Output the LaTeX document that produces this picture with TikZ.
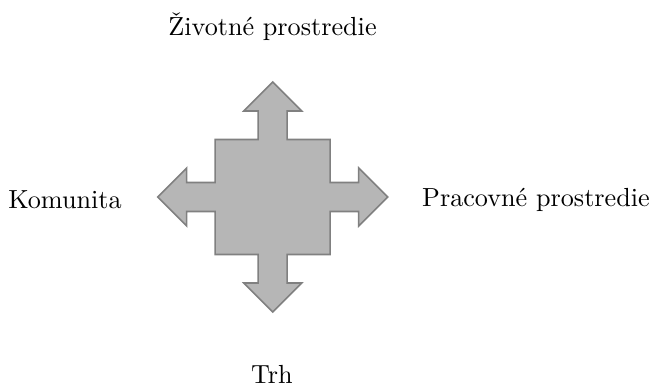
\documentclass[tikz,border=0pt]{standalone}
\begin{document}
\begin{tikzpicture}[x=0.382pt,y=-0.382pt,
  arrowshape/.style={fill=gray!50!white!95!black, draw=black!50, line width=0.6pt, line join=miter},
  lbl/.style={font=\fontsize{10}{12}\selectfont, inner sep=0pt}]
\useasboundingbox (0,0) rectangle (652,386);
\coordinate (c) at (272.7,197);
\begin{scope}[shift={(c)}]
\draw[arrowshape] (0,-115) -- (29,-86) -- (14.5,-86) -- (14.5,-57.5) -- (57.5,-57.5) -- (57.5,-14.5)
 -- (86,-14.5) -- (86,-29) -- (115,0) -- (86,29) -- (86,14.5) -- (57.5,14.5) -- (57.5,57.5)
 -- (14.5,57.5) -- (14.5,86) -- (29,86) -- (0,115) -- (-29,86) -- (-14.5,86) -- (-14.5,57.5)
 -- (-57.5,57.5) -- (-57.5,14.5) -- (-86,14.5) -- (-86,29) -- (-115,0) -- (-86,-29) -- (-86,-14.5)
 -- (-57.5,-14.5) -- (-57.5,-57.5) -- (-14.5,-57.5) -- (-14.5,-86) -- (-29,-86) -- cycle;
\end{scope}
\node[lbl] (top) at (272.5,27) {Životné prostredie};
\node[lbl] (left) at (65,200) {Komunita};
\node[lbl] (right) at (536,200) {Pracovné prostredie};
\node[lbl] (bottom) at (272,374) {Trh};
\end{tikzpicture}
\end{document}
